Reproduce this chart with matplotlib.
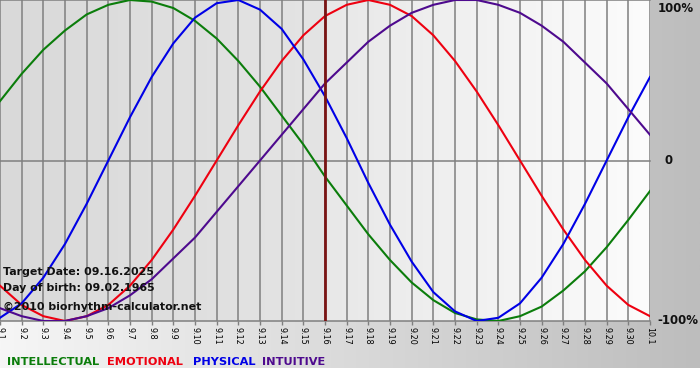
"""Biorhythm chart, 9.1 .. 10.1, target date 9.16."""
import numpy as np
import matplotlib
matplotlib.use('Agg')
import matplotlib.pyplot as plt
from matplotlib.colors import LinearSegmentedColormap

# Day labels along the bottom (one per day).
DAYS = ['9.%d' % i for i in range(1, 31)] + ['10.1']
TARGET_IDX = 15          # 9.16

# Curve values, one per day, -1 .. 1.
INTELLECTUAL = [0.37, 0.54, 0.69, 0.81, 0.91, 0.97, 1.00, 0.99, 0.95, 0.87,
                0.76, 0.62, 0.46, 0.28, 0.10, -0.10, -0.28, -0.46, -0.62,
                -0.76, -0.87, -0.95, -0.99, -1.00, -0.97, -0.91, -0.81,
                -0.69, -0.54, -0.37, -0.19]
EMOTIONAL = [-0.78, -0.90, -0.97, -1.00, -0.97, -0.90, -0.78, -0.62, -0.43,
             -0.22, 0.00, 0.22, 0.43, 0.62, 0.78, 0.90, 0.97, 1.00, 0.97,
             0.90, 0.78, 0.62, 0.43, 0.22, 0.00, -0.22, -0.43, -0.62,
             -0.78, -0.90, -0.97]
PHYSICAL = [-0.98, -0.89, -0.73, -0.52, -0.27, 0.00, 0.27, 0.52, 0.73, 0.89,
            0.98, 1.00, 0.94, 0.82, 0.63, 0.40, 0.14, -0.14, -0.40, -0.63,
            -0.82, -0.94, -1.00, -0.98, -0.89, -0.73, -0.52, -0.27, 0.00,
            0.27, 0.52]
INTUITIVE = [-0.92, -0.97, -1.00, -1.00, -0.97, -0.92, -0.84, -0.74, -0.61,
             -0.48, -0.32, -0.16, 0.00, 0.16, 0.32, 0.48, 0.61, 0.74, 0.84,
             0.92, 0.97, 1.00, 1.00, 0.97, 0.92, 0.84, 0.74, 0.61, 0.48,
             0.32, 0.16]

SERIES = [
    ('INTELLECTUAL', INTELLECTUAL, '#0b7d0b'),
    ('EMOTIONAL',    EMOTIONAL,    '#ee0010'),
    ('PHYSICAL',     PHYSICAL,     '#0000e6'),
    ('INTUITIVE',    INTUITIVE,    '#4e0a8e'),
]

W, H = 700, 380
fig = plt.figure(figsize=(W / 100, H / 100), dpi=100, facecolor='white')

# Outer grey gradient (light on the left, darker on the right).
bg = fig.add_axes([0, 12 / H, 1, 368 / H], zorder=-10)
bg.imshow(np.linspace(0, 1, 256)[None, :], aspect='auto',
          cmap=LinearSegmentedColormap.from_list('bg', ['#f6f6f6', '#bdbdbd']),
          extent=[0, 1, 0, 1])
bg.set_axis_off()

ax = fig.add_axes([0, (H - 321) / H, 650 / W, 321 / H])
ax.patch.set_visible(False)
x = np.arange(len(DAYS))

# Plot area: past half darker, future half lighter.
past_cm = LinearSegmentedColormap.from_list('p', ['#d9d9d9', '#e4e4e4'])
fut_cm = LinearSegmentedColormap.from_list('f', ['#e8e8e8', '#fcfcfc'])
grad = np.linspace(0, 1, 256)[None, :]
ax.imshow(grad, extent=[0, TARGET_IDX, -1, 1], aspect='auto', cmap=past_cm,
          zorder=0)
ax.imshow(grad, extent=[TARGET_IDX, len(DAYS) - 1, -1, 1], aspect='auto',
          cmap=fut_cm, zorder=0)

for xi in x:
    ax.axvline(xi, color='#7f7f7f', lw=1.1, zorder=1)
for yv in (-1, 0, 1):
    ax.axhline(yv, color='#7f7f7f', lw=1.1, zorder=1, clip_on=False)

for name, vals, col in SERIES:
    ax.plot(x, vals, color=col, lw=1.5, zorder=3, solid_joinstyle='round')

ax.axvline(TARGET_IDX, color='#7a1414', lw=2.0, zorder=4)

ax.set_xlim(0, len(DAYS) - 1)
ax.set_ylim(-1, 1)
for s in ax.spines.values():
    s.set_visible(False)
ax.set_yticks([])
ax.set_xticks(x)
ax.set_xticklabels(DAYS, rotation=-90, fontsize=5.8, va='top', ha='center')
ax.tick_params(axis='x', length=3, width=1.0, color='#7f7f7f', pad=1.5)

# Right-hand percentage labels.
rlab = dict(transform=ax.get_yaxis_transform(), fontsize=8.5,
            fontweight='bold', color='#111111', clip_on=False)
ax.text(1.012, 0.985, '100%', va='top', ha='left', **rlab)
ax.text(1.023, 0.0, '0', va='center', ha='left', **rlab)
ax.text(1.012, -1.0, '-100%', va='center', ha='left', **rlab)

# Info text bottom-left inside the plot.
info = dict(transform=ax.transAxes, fontsize=7.9, fontweight='bold',
            color='#111111', ha='left', va='center', zorder=5)
ax.text(0.004, (160 - 111) / 321, 'Target Date: 09.16.2025', **info)
ax.text(0.004, (160 - 127) / 321, 'Day of birth: 09.02.1965', **info)
ax.text(0.004, (160 - 146) / 321, '\u00a92010 biorhythm-calculator.net', **info)

# Coloured legend words at the bottom.
lx = [7, 107, 193, 262]
for (name, vals, col), px in zip(SERIES, lx):
    fig.text(px / W, 1 - 362 / H, name, color=col, fontsize=8.2,
             fontweight='bold', ha='left', va='center')

fig.savefig('out.png', dpi=100, facecolor='white')
